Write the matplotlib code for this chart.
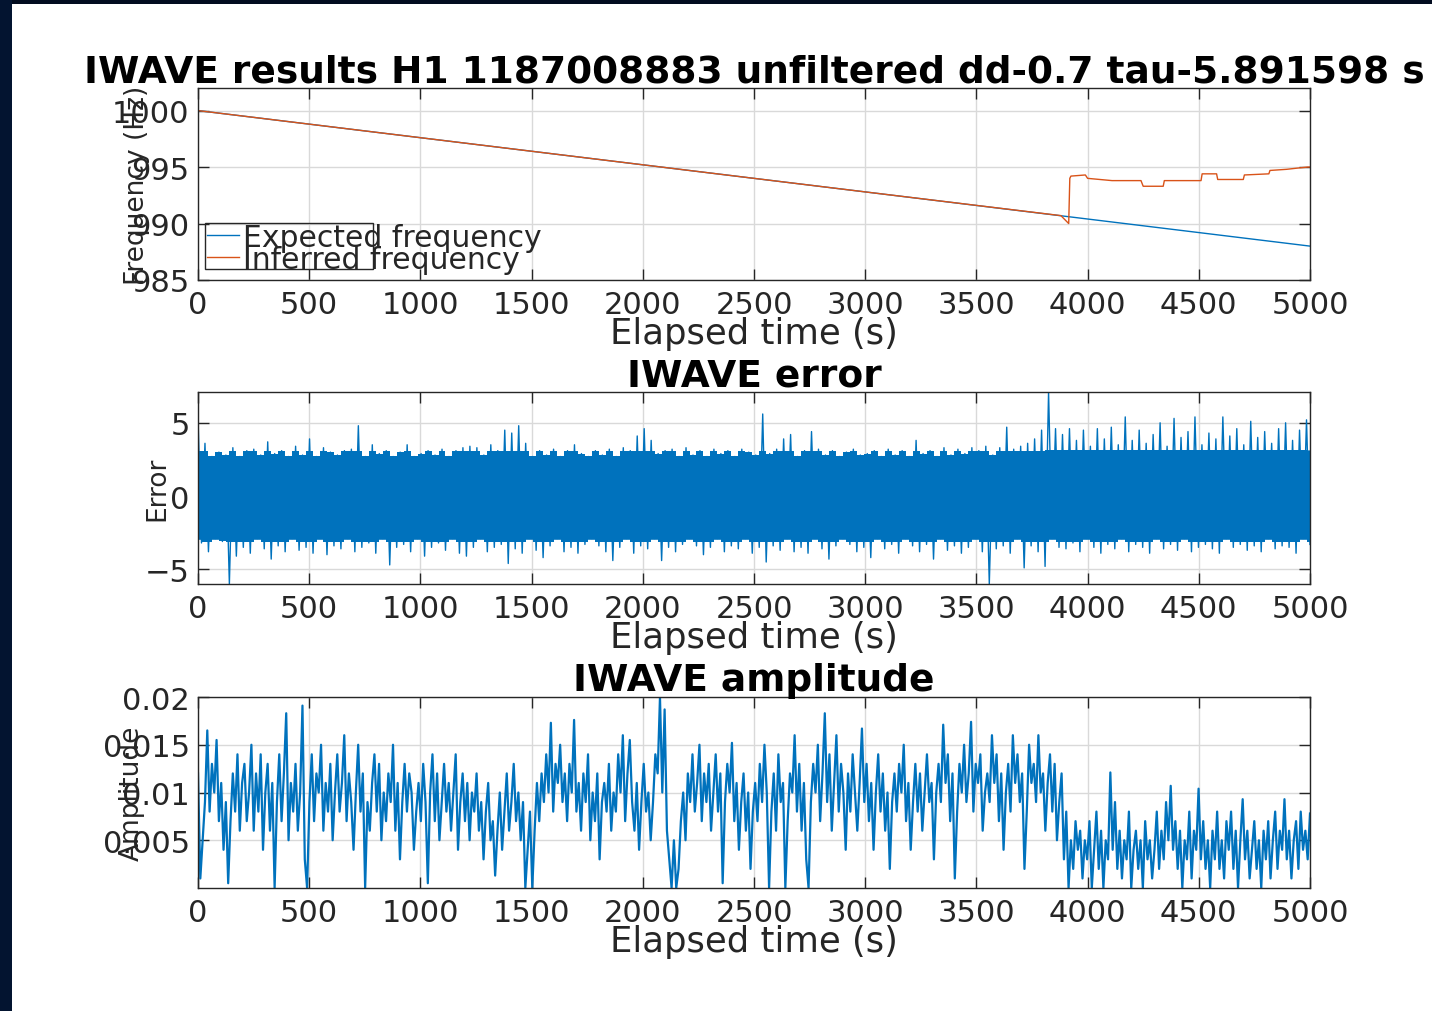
"""IWAVE results figure: frequency tracking, error and amplitude"""

import numpy as np
import matplotlib
matplotlib.use("Agg")
import matplotlib.pyplot as plt
from matplotlib.patches import Rectangle

BLUE = "#0072BD"
ORANGE = "#D95319"
AXCOL = "#262626"

# --- frequency panel (Hz) ---
exp_t = [0, 1000, 2000, 3000, 4000, 5000]
exp_f = [1000.0, 997.6, 995.2, 992.8, 990.4, 988.0]
inf_t = [0, 1000, 2000, 3000, 3880, 3915, 3920, 3925, 3990, 4000,
         4110, 4240, 4250, 4340, 4345, 4510, 4515, 4580, 4585, 4700,
         4705, 4815, 4820, 4895, 4940, 4990, 5000]
inf_f = [1000.0, 997.6, 995.2, 992.8, 990.7, 990.0, 994.0, 994.2, 994.3, 994.0,
         993.8, 993.8, 993.3, 993.3, 993.8, 993.8, 994.4, 994.4, 993.9, 993.9,
         994.3, 994.4, 994.7, 994.8, 994.9, 995.0, 995.0]

# --- error panel: upper / lower excursions, read left to right ---
err_up = [5.4, 3.6, 2.7, 3.0, 2.8, 3.3, 2.7, 3.1, 3.2, 2.8,
          3.7, 2.9, 3.1, 2.7, 3.4, 2.8, 3.9, 2.7, 3.3, 3.0,
          2.8, 3.1, 3.2, 4.8, 2.7, 3.5, 2.9, 3.1, 2.7, 3.0,
          3.5, 2.7, 2.9, 3.1, 2.8, 3.2, 2.7, 3.1, 3.3, 3.4,
          3.3, 2.8, 3.5, 3.1, 4.5, 4.3, 4.8, 3.6, 2.7, 3.1,
          2.8, 3.2, 2.7, 3.1, 3.5, 2.9, 2.7, 3.1, 2.8, 3.2,
          2.7, 3.3, 3.1, 4.1, 4.6, 3.8, 2.9, 3.1, 3.2, 2.7,
          3.3, 2.8, 3.1, 2.7, 3.2, 2.9, 3.1, 2.7, 3.2, 3.0,
          2.8, 5.6, 2.9, 3.2, 3.9, 4.2, 2.7, 3.1, 4.4, 3.2,
          2.8, 3.1, 2.7, 3.0, 3.2, 2.8, 2.9, 3.1, 2.7, 3.2,
          2.8, 3.1, 2.7, 3.8, 2.9, 3.1, 2.7, 3.3, 2.8, 3.2,
          2.9, 3.3, 3.1, 3.4, 2.8, 3.3, 4.7, 3.2, 3.4, 3.6,
          3.9, 4.5, 7.1, 4.6, 4.2, 4.6, 3.8, 4.5, 3.4, 4.6,
          3.9, 4.7, 3.5, 5.4, 3.8, 4.5, 3.6, 4.2, 5.0, 3.4,
          5.3, 4.0, 4.4, 5.4, 3.5, 4.3, 3.9, 5.4, 4.1, 4.6,
          3.5, 5.1, 4.0, 4.4, 3.6, 4.6, 5.0, 3.8, 4.5, 5.2]
err_dn = [-3.2, -3.8, -2.9, -3.1, -6.0, -4.1, -3.5, -3.9, -2.9, -3.6,
          -4.3, -3.4, -3.8, -2.9, -3.7, -3.5, -3.9, -2.9, -4.0, -3.4,
          -3.6, -2.9, -3.8, -3.5, -3.2, -3.9, -2.9, -4.7, -3.5, -3.3,
          -3.8, -2.9, -4.1, -3.5, -3.2, -3.7, -2.9, -3.9, -4.1, -3.5,
          -2.9, -3.8, -3.5, -3.3, -4.6, -3.6, -3.9, -2.9, -3.7, -4.2,
          -3.4, -2.9, -3.8, -3.5, -3.9, -3.3, -2.9, -3.4, -3.8, -4.4,
          -3.5, -2.9, -3.9, -3.4, -3.6, -2.9, -4.4, -3.5, -3.8, -3.3,
          -2.9, -3.4, -4.0, -3.5, -2.9, -3.8, -3.4, -3.6, -2.9, -3.9,
          -3.5, -4.5, -3.4, -3.7, -2.9, -3.8, -3.5, -3.9, -2.9, -3.6,
          -4.3, -3.4, -2.9, -3.3, -3.8, -3.5, -4.2, -2.9, -3.6, -3.3,
          -3.9, -2.9, -3.4, -3.8, -3.3, -4.3, -2.9, -3.7, -3.4, -3.9,
          -3.5, -2.9, -3.8, -6.0, -3.6, -3.4, -3.9, -2.9, -4.9, -3.4,
          -3.8, -4.8, -2.9, -3.5, -3.6, -3.2, -3.8, -2.9, -3.5, -3.9,
          -3.3, -3.6, -2.9, -3.8, -3.3, -3.5, -3.9, -2.9, -3.6, -3.3,
          -3.7, -2.9, -3.8, -3.5, -3.3, -3.6, -3.9, -2.9, -3.5, -3.3,
          -3.7, -3.4, -3.8, -2.9, -3.6, -3.4, -3.5, -3.9, -2.9, -3.3]
# level up to which the trace is so dense that it reads as a solid band
err_core_t = [0, 3810, 3811, 5000]
err_core_hi = [2.75, 2.75, 3.15, 3.15]
err_core_lo = [-2.95, -2.95, -2.95, -2.95]
err_block_cap = 3.05   # short excursions that merge into the band edge

# --- amplitude panel (units of 1e-3) ---
amp_milli = [12, 1, 5, 9, 16.5, 8, 13, 10, 15.5, 7, 11, 4, 9, 0.5, 7, 12, 8, 14, 6, 11,
             13, 7, 10, 15, 6, 12, 8, 14, 4, 10, 13, 6, 11, 0, 9, 14, 7, 12, 18.3, 5,
             11, 8, 13, 6, 10, 19.1, 3, 0, 9, 14, 7, 12, 10, 15, 6, 11, 8, 13, 5, 10,
             14, 8, 11, 16, 7, 12, 9, 4, 10, 15, 8, 12, 0, 9, 6, 11, 14, 8, 13, 5,
             10, 7, 12, 9, 15, 6, 11, 3, 9, 13, 8, 12, 10, 4, 8, 11, 7, 13, 9, 0.5,
             10, 14, 7, 12, 5, 9, 13, 8, 11, 6, 10, 14, 4, 9, 12, 7, 11, 5, 10, 8,
             12, 6, 9, 3, 8, 11, 5, 7, 1.3, 6, 10, 4, 8, 12, 6, 9, 13, 7, 10, 5,
             9, 0, 4, 8, 0, 6, 11, 7, 12, 9, 14, 10, 17.3, 8, 13, 11, 15, 9, 12, 7,
             13, 10, 17.6, 8, 11, 6, 12, 9, 14, 5, 10, 7, 12, 3, 9, 11, 8, 13, 6, 10,
             8, 14, 10, 16, 7, 12, 15.5, 9, 6, 11, 4, 9, 13, 8, 10, 5, 9, 14, 12, 20,
             10, 18.7, 6, 3, 0, 5, 0, 2, 7, 10, 5, 12, 9, 14, 8, 11, 15, 7, 12, 9,
             13, 6, 10, 14, 8, 12, 0.5, 9, 13, 10, 15.2, 7, 11, 4, 9, 12, 6, 10, 2, 8,
             11, 7, 13, 9, 15, 10, 0, 8, 12, 6, 14, 9, 11, 0, 7, 12, 10, 16, 8, 13,
             6, 11, 3, 0, 9, 13, 10, 15, 7, 12, 18.3, 9, 14, 6, 11, 16, 8, 13, 10, 4,
             12, 8, 14, 10, 6, 11, 16.7, 9, 13, 7, 11, 4, 10, 14, 8, 12, 6, 10, 2, 9,
             12, 8, 13, 10, 15, 7, 11, 4, 9, 13, 8, 12, 6, 10, 14, 9, 11, 3, 10, 13,
             9, 17.1, 11, 14, 7, 12, 1, 8, 13, 10, 15, 9, 12, 17.4, 8, 13, 11, 14, 6, 10,
             12, 9, 16, 11, 14, 7, 12, 4, 10, 13, 8, 16, 11, 14, 9, 12, 2, 8, 15, 11,
             13, 9, 16, 10, 12, 6, 11, 14, 8, 13, 5, 9, 12, 3, 8, 0, 5, 2, 7, 4,
             6, 1, 5, 3, 7, 0, 4, 8, 2, 6, 0, 5, 3, 12.1, 4, 9, 2, 6, 1, 5,
             3, 8, 0, 4, 6, 2, 5, 0, 7, 3, 5, 1, 4, 8, 2, 6, 3, 9, 5, 10.7,
             4, 7, 2, 6, 0, 5, 3, 8, 1, 6, 4, 10.4, 3, 7, 2, 5, 0, 6, 3, 8,
             2, 5, 1, 7, 4, 8, 2, 6, 0, 5, 9.3, 3, 6, 1, 4, 7, 2, 5, 0, 6,
             3, 7, 1, 5, 8, 2, 6, 4, 9.3, 3, 6, 1, 5, 7, 2, 8, 4, 6, 3, 7.8]

x_ticks = [0, 500, 1000, 1500, 2000, 2500, 3000, 3500, 4000, 4500, 5000]
freq_ticks = [985, 990, 995, 1000]
err_ticks = [-5, 0, 5]
amp_ticks = [0.005, 0.01, 0.015, 0.02]
amp_ticklabels = ["0.005", "0.01", "0.015", "0.02"]

TITLE = "IWAVE results H1 1187008883 unfiltered dd-0.7 tau-5.891598 s"


def style_axes(ax):
    ax.set_xlim(0, 5000)
    ax.set_xticks(x_ticks)
    ax.tick_params(direction="in", top=True, right=True, length=8, width=1,
                   color=AXCOL, labelcolor=AXCOL, labelsize=22)
    ax.tick_params(axis="x", pad=7)
    ax.tick_params(axis="y", pad=6)
    for sp in ax.spines.values():
        sp.set_color(AXCOL)
        sp.set_linewidth(1.0)
    ax.grid(True, color="#d9d9d9", linewidth=1.0)
    ax.set_axisbelow(True)
    ax.set_xlabel("Elapsed time (s)", fontsize=25.5, color=AXCOL, labelpad=-2)


def main():
    fig = plt.figure(figsize=(14.32, 10.12), dpi=100)

    # dark frame strips around the screenshot
    fig.patches.append(Rectangle((0, 1 - 5 / 1012), 1, 5 / 1012, transform=fig.transFigure,
                                 facecolor="#020c1f", edgecolor="none"))
    fig.patches.append(Rectangle((0, 0), 12 / 1432, 1, transform=fig.transFigure,
                                 facecolor="#031430", edgecolor="none"))

    left, width = 198 / 1432, 1112 / 1432
    ax1 = fig.add_axes([left, 1 - 281 / 1012, width, 192 / 1012])
    ax2 = fig.add_axes([left, 1 - 585 / 1012, width, 192 / 1012])
    ax3 = fig.add_axes([left, 1 - 889 / 1012, width, 191 / 1012])

    # Frequency
    l1, = ax1.plot(exp_t, exp_f, color=BLUE, linewidth=1.0, label="Expected frequency")
    l2, = ax1.plot(inf_t, inf_f, color=ORANGE, linewidth=1.0, label="Inferred frequency")
    style_axes(ax1)
    ax1.set_ylim(985, 1002)
    ax1.set_yticks(freq_ticks)
    ax1.set_ylabel("Frequency (Hz)", fontsize=19, color=AXCOL)
    ax1.yaxis.set_label_coords(-0.043, 0.5)
    ax1.set_title(TITLE, fontsize=27, fontweight="bold", pad=5)
    leg = ax1.legend(handles=[l1, l2], loc="upper left", bbox_to_anchor=(0.008, 0.298),
                     frameon=False, fontsize=21.5, handlelength=1.07, handletextpad=0.14,
                     borderpad=0, borderaxespad=0, labelspacing=-0.23)
    for txt in leg.get_texts():
        txt.set_color(AXCOL)
    ax1.add_patch(Rectangle((0.0063, 0.057), 0.151, 0.24, transform=ax1.transAxes,
                            fill=False, edgecolor=AXCOL, linewidth=1.0, zorder=5,
                            clip_on=False))

    # Error
    n = min(len(err_up), len(err_dn))
    err = np.column_stack([err_up[:n], err_dn[:n]]).ravel()
    err_t = np.linspace(0, 5000, len(err))
    up = np.array(err_up[:n])
    dn = np.array(err_dn[:n])
    up_edge = np.maximum(err_block_cap, np.interp(err_t[0::2], err_core_t, err_core_hi))
    ax2.fill_between(err_core_t, err_core_lo, err_core_hi, color=BLUE, linewidth=0)
    ax2.fill_between(err_t[0::2], 0, np.minimum(up, up_edge), step="mid", color=BLUE, linewidth=0)
    ax2.fill_between(err_t[1::2], 0, np.maximum(dn, -3.15), step="mid", color=BLUE, linewidth=0)
    ax2.plot(err_t, err, color=BLUE, linewidth=1.0)
    style_axes(ax2)
    ax2.set_ylim(-6.0, 7.1)
    ax2.set_yticks(err_ticks)
    ax2.set_ylabel("Error", fontsize=19, color=AXCOL)
    ax2.yaxis.set_label_coords(-0.025, 0.5)
    ax2.set_title("IWAVE error", fontsize=27, fontweight="bold", pad=5)

    # Amplitude
    amp = np.array(amp_milli) / 1000.0
    amp_t = np.linspace(0, 5000, len(amp))
    ax3.plot(amp_t, amp, color=BLUE, linewidth=1.6)
    style_axes(ax3)
    ax3.set_ylim(0, 0.02)
    ax3.set_yticks(amp_ticks)
    ax3.set_yticklabels(amp_ticklabels)
    ax3.set_ylabel("Amplitude", fontsize=19, color=AXCOL)
    ax3.yaxis.set_label_coords(-0.048, 0.5)
    ax3.set_title("IWAVE amplitude", fontsize=27, fontweight="bold", pad=5)

    fig.savefig("out.png", dpi=100)
    plt.close(fig)


if __name__ == "__main__":
    main()
